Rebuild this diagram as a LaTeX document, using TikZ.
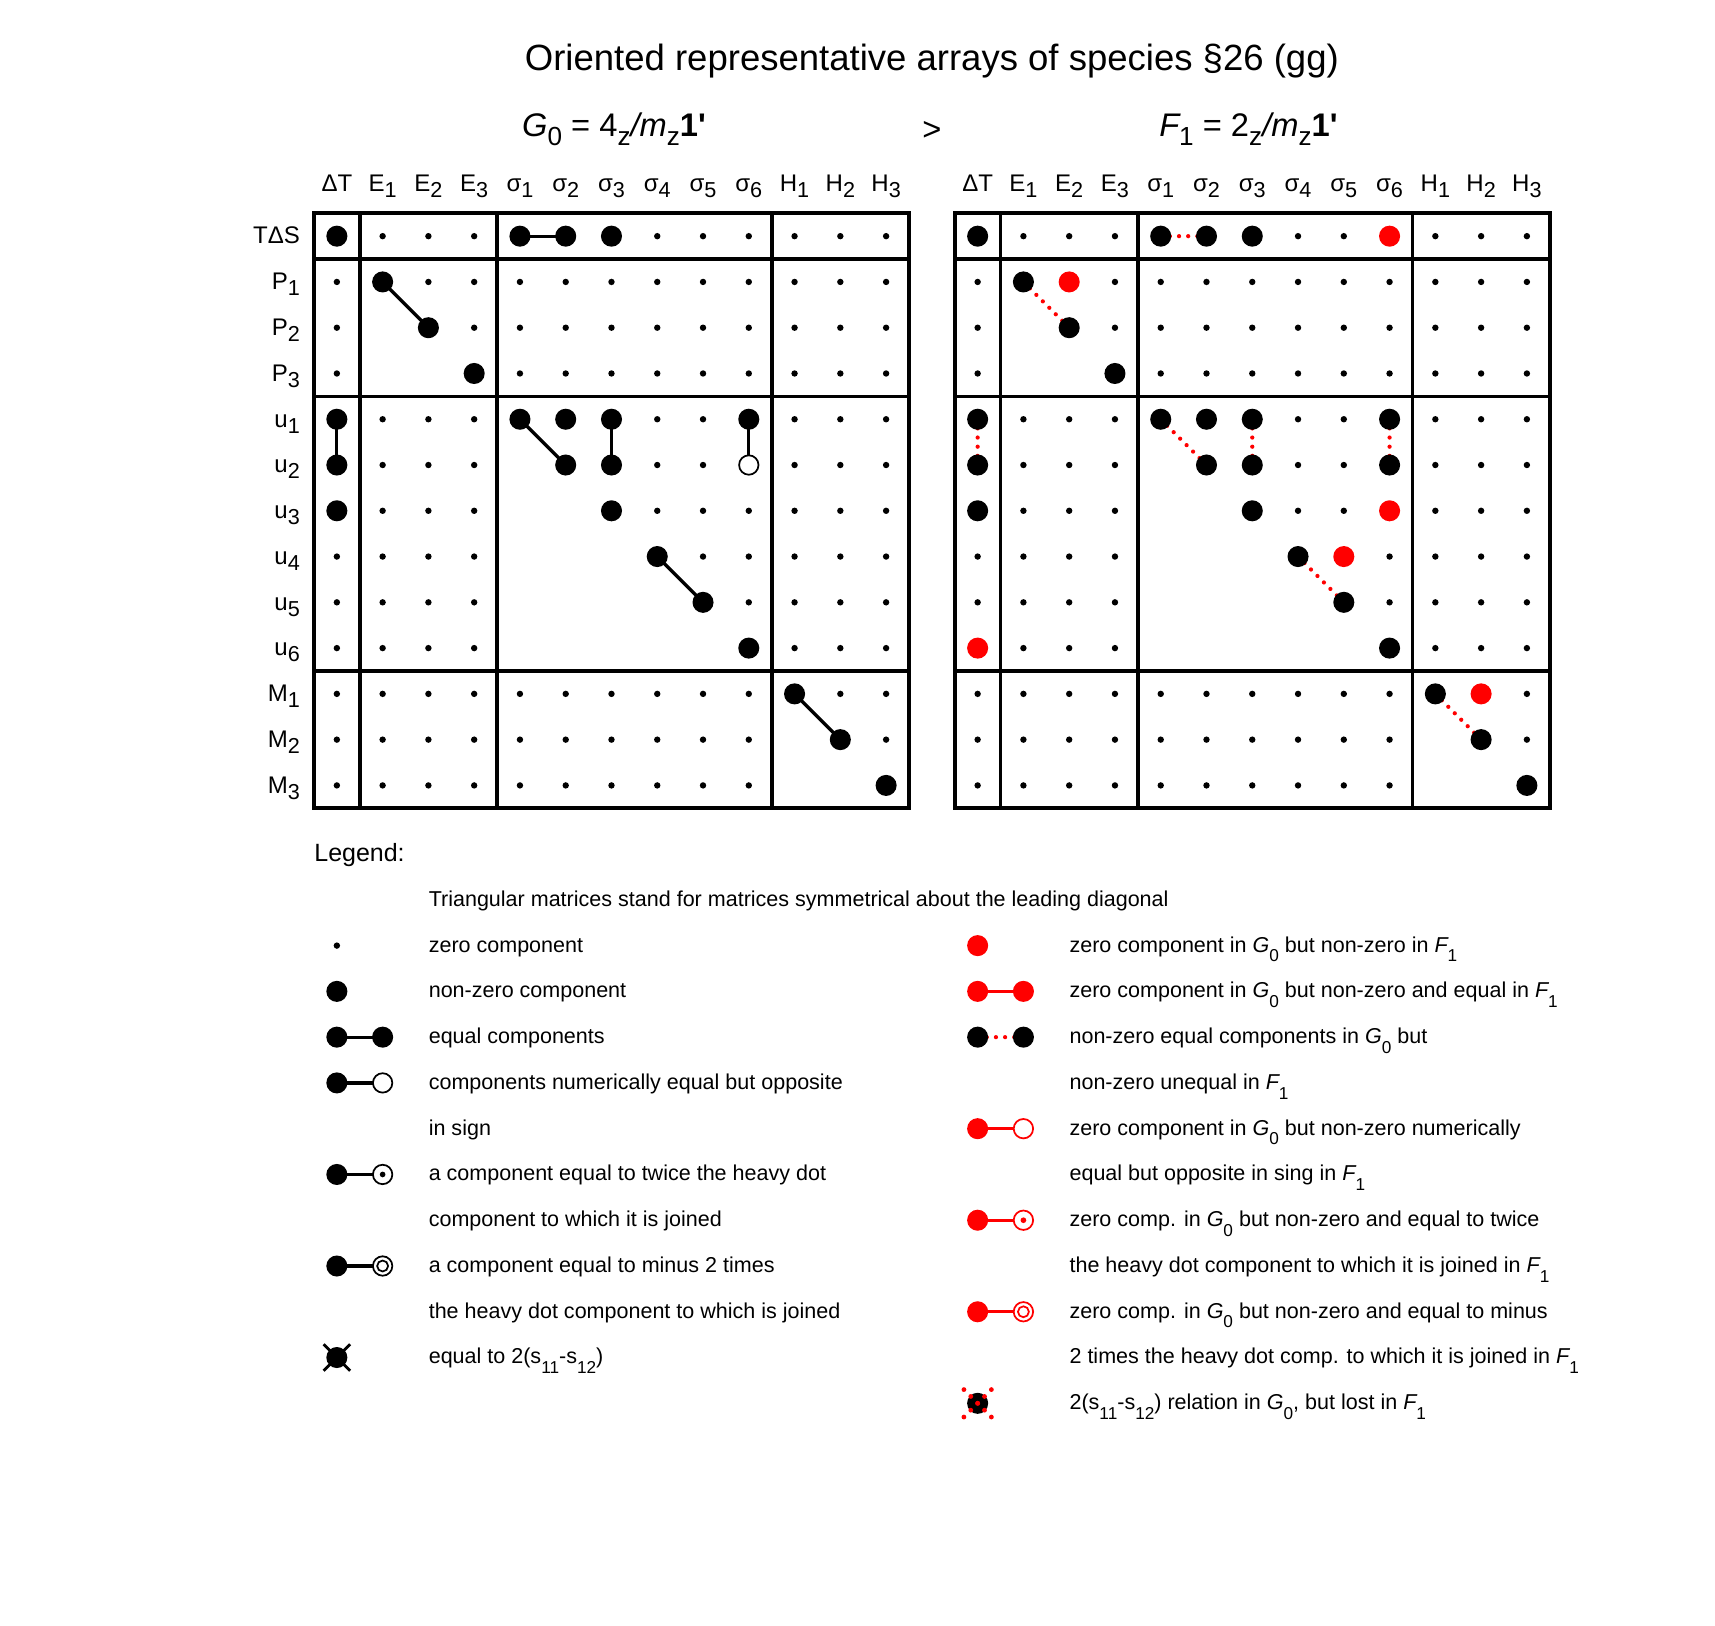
\documentclass[tikz,border=0pt]{standalone}
\usepackage{fontspec}
\setmainfont{Liberation Sans}
\usetikzlibrary{backgrounds}

\newcommand{\dn}[1]{\raisebox{-0.25em}{\scalebox{0.9}{#1}}}
\newcommand{\hs}[1]{\raisebox{-0.28em}{\scalebox{0.8}{#1}}}
\newcommand{\lo}[1]{\raisebox{-0.45em}{\scalebox{0.8}{#1}}}
\newcommand{\Gn}{{\itshape G}\lo{0}}
\newcommand{\Fn}{{\itshape F}\lo{1}}

\tikzset{
  zero/.style={circle, fill, inner sep=0pt, minimum size=0.117cm},
  nz/.style={circle, fill, inner sep=0pt, minimum size=0.385cm},
  nzred/.style={nz, fill=red},
  opn/.style={circle, draw, fill=white, line width=0.9pt, inner sep=0pt, minimum size=0.355cm},
  opnred/.style={opn, draw=red},
  twice/.style={opn, path picture={\fill[black] (path picture bounding box.center) circle (0.052cm);}},
  twicered/.style={opnred, path picture={\fill[red] (path picture bounding box.center) circle (0.052cm);}},
  minus/.style={opn, path picture={\draw[black, line width=0.9pt] (path picture bounding box.center) circle (0.1cm);}},
  minusred/.style={opnred, path picture={\draw[red, line width=0.9pt] (path picture bounding box.center) circle (0.1cm);}},
  link/.style={line width=1.7pt},
  linkred/.style={link, red},
  reddots/.style={red, line width=2.2pt, line cap=round, dash pattern=on 0pt off 4.76pt},
  xline/.style={line width=1.5pt},
  xdots/.style={red, line width=2.5pt, line cap=round, dash pattern=on 0pt off 5.05pt},
  frame/.style={line width=1.9pt},
  colhd/.style={font=\fontsize{12.5}{15}\selectfont, inner sep=0pt, anchor=base},
  rowlab/.style={font=\fontsize{12.5}{15}\selectfont, inner sep=0pt, anchor=base east},
  grpname/.style={font=\fontsize{17}{21}\selectfont, inner sep=0pt, anchor=base west},
  leg/.style={font=\fontsize{11.2}{13.5}\selectfont, inner sep=0pt, anchor=base west}
}

\begin{document}
\begin{tikzpicture}[x=0.837cm, y=0.837cm]
\useasboundingbox (-7.36,5.16) rectangle (30.11,-30.36);

% titles
\node[font=\fontsize{19}{23}\selectfont, inner sep=0pt, anchor=base] (title) at (13,3.61) {Oriented representative arrays of species §26 (gg)};
\node[grpname] (gname) at (4.04,2.17) {{\itshape G}\hs{0} = 4\hs{z}{\itshape /m}\hs{z}{\bfseries 1\textquotesingle}};
\node[grpname, anchor=base] (gt) at (13,2.1) {>};
\node[grpname] (fname) at (17.96,2.17) {{\itshape F}\hs{1} = 2\hs{z}{\itshape /m}\hs{z}{\bfseries 1\textquotesingle}};

% frames
\foreach \sh in {0,14} {
  \draw[frame] (\sh-0.5,0.5) rectangle (\sh+12.5,-12.5);
  \foreach \x in {0.5,3.5,9.5} {
    \draw[frame] (\sh+\x,0.5) -- (\sh+\x,-12.5);
    \draw[frame] (\sh-0.5,-\x) -- (\sh+12.5,-\x);
  }
}

% column and row labels
\foreach \mx/\sh in {G/0,F/14}
  \foreach \txt [count=\nr from 0] in {ΔT,E\dn{1},E\dn{2},E\dn{3},σ\dn{1},σ\dn{2},σ\dn{3},σ\dn{4},σ\dn{5},σ\dn{6},H\dn{1},H\dn{2},H\dn{3}}
    \node[colhd] (\mx-h\nr) at (\nr+\sh,0.98) {\txt};
\foreach \txt [count=\nr from 0] in {TΔS,P\dn{1},P\dn{2},P\dn{3},u\dn{1},u\dn{2},u\dn{3},u\dn{4},u\dn{5},u\dn{6},M\dn{1},M\dn{2},M\dn{3}}
  \node[rowlab] (row\nr) at (-0.8,-\nr-0.17) {\txt};

% zero components (lower triangle of the diagonal blocks left blank)
\foreach \mx/\sh in {G/0,F/14}
  \foreach \r in {0,...,12}
    \foreach \c in {0,...,12} {
      \pgfmathtruncatemacro{\rb}{(\r>0)+(\r>3)+(\r>9)}
      \pgfmathtruncatemacro{\cb}{(\c>0)+(\c>3)+(\c>9)}
      \pgfmathtruncatemacro{\blank}{(\c<\r)*(\rb==\cb)}
      \ifnum\blank=0 \node[zero] (z\mx-\r-\c) at (\c+\sh,-\r) {}; \fi
    }

% non-zero components
\foreach \r/\c in {0/0,0/4,0/5,0/6,1/1,2/2,3/3,4/0,5/0,6/0,4/4,4/5,4/6,4/9,5/5,5/6,6/6,7/7,8/8,9/9,10/10,11/11,12/12}
  \node[nz] (G-\r-\c) at (\c,-\r) {};
\node[opn] (G-5-9) at (9,-5) {};
\foreach \r/\c in {0/0,0/4,0/5,0/6,1/1,2/2,3/3,4/0,5/0,6/0,4/4,4/5,4/6,4/9,5/5,5/6,5/9,6/6,7/7,8/8,9/9,10/10,11/11,12/12}
  \node[nz] (F-\r-\c) at (\c+14,-\r) {};
\foreach \r/\c in {0/9,1/2,6/9,7/8,9/0,10/11}
  \node[nzred] (F-\r-\c) at (\c+14,-\r) {};

% legend
\node[font=\fontsize{13}{16}\selectfont, inner sep=0pt, anchor=base west] (legend) at (-0.5,-13.66) {Legend:};
\node[zero] (kz) at (0,-15.5) {};
\node[nz] (knz) at (0,-16.5) {};
\node[nz] (keq1) at (0,-17.5) {};
\node[nz] (keq2) at (1,-17.5) {};
\node[nz] (kop1) at (0,-18.5) {};
\node[opn] (kop2) at (1,-18.5) {};
\node[nz] (ktw1) at (0,-20.5) {};
\node[twice] (ktw2) at (1,-20.5) {};
\node[nz] (kmi1) at (0,-22.5) {};
\node[minus] (kmi2) at (1,-22.5) {};
\node[nz] (kx) at (0,-24.5) {};
\draw[xline] ([shift={(-0.29,0.29)}]kx.center) -- ([shift={(0.29,-0.29)}]kx.center);
\draw[xline] ([shift={(-0.29,-0.29)}]kx.center) -- ([shift={(0.29,0.29)}]kx.center);

\node[nzred] (rz) at (14,-15.5) {};
\node[nzred] (req1) at (14,-16.5) {};
\node[nzred] (req2) at (15,-16.5) {};
\node[nz] (rne1) at (14,-17.5) {};
\node[nz] (rne2) at (15,-17.5) {};
\node[nzred] (rop1) at (14,-19.5) {};
\node[opnred] (rop2) at (15,-19.5) {};
\node[nzred] (rtw1) at (14,-21.5) {};
\node[twicered] (rtw2) at (15,-21.5) {};
\node[nzred] (rmi1) at (14,-23.5) {};
\node[minusred] (rmi2) at (15,-23.5) {};
\node[nz] (rx) at (14,-25.5) {};
\draw[xdots] ([shift={(-0.3,0.3)}]rx.center) -- ([shift={(0.3,-0.3)}]rx.center);
\draw[xdots] ([shift={(-0.3,-0.3)}]rx.center) -- ([shift={(0.3,0.3)}]rx.center);

\foreach \txt [count=\nr from 0] in {
    {Triangular matrices stand for matrices symmetrical about the leading diagonal},
    {zero component}, {non-zero component}, {equal components},
    {components numerically equal but opposite}, {in sign},
    {a component equal to twice the heavy dot}, {component to which it is joined},
    {a component equal to minus 2 times}, {the heavy dot component to which is joined},
    {equal to 2(s\lo{11}-s\lo{12})}}
  \node[leg] (kt\nr) at (2,-14.64-\nr) {\txt};
\foreach \txt [count=\nr from 0] in {
    {zero component in \Gn{} but non-zero in \Fn},
    {zero component in \Gn{} but non-zero and equal in \Fn},
    {non-zero equal components in \Gn{} but}, {non-zero unequal in \Fn},
    {zero component in \Gn{} but non-zero numerically}, {equal but opposite in sing in \Fn},
    {zero comp. in \Gn{} but non-zero and equal to twice},
    {the heavy dot component to which it is joined in \Fn},
    {zero comp. in \Gn{} but non-zero and equal to minus},
    {2 times the heavy dot comp. to which it is joined in \Fn},
    {2(s\lo{11}-s\lo{12}) relation in \Gn, but lost in \Fn}}
  \node[leg] (rt\nr) at (16,-15.64-\nr) {\txt};

% connectors, behind the dots
\begin{scope}[on background layer]
\foreach \ea/\eb in {0-4/0-5,1-1/2-2,4-0/5-0,4-4/5-5,4-6/5-6,4-9/5-9,7-7/8-8,10-10/11-11} {
  \draw[link] (G-\ea.center) -- (G-\eb.center);
  \draw[reddots] (F-\ea.center) -- (F-\eb.center);
}
\draw[link] (keq1.center) -- (keq2.center);
\draw[link] (kop1.center) -- (kop2.center);
\draw[link] (ktw1.center) -- (ktw2.center);
\draw[link] (kmi1.center) -- (kmi2.center);
\draw[linkred] (req1.center) -- (req2.center);
\draw[reddots] (rne1.center) -- (rne2.center);
\draw[linkred] (rop1.center) -- (rop2.center);
\draw[linkred] (rtw1.center) -- (rtw2.center);
\draw[linkred] (rmi1.center) -- (rmi2.center);
\end{scope}
\end{tikzpicture}
\end{document}
